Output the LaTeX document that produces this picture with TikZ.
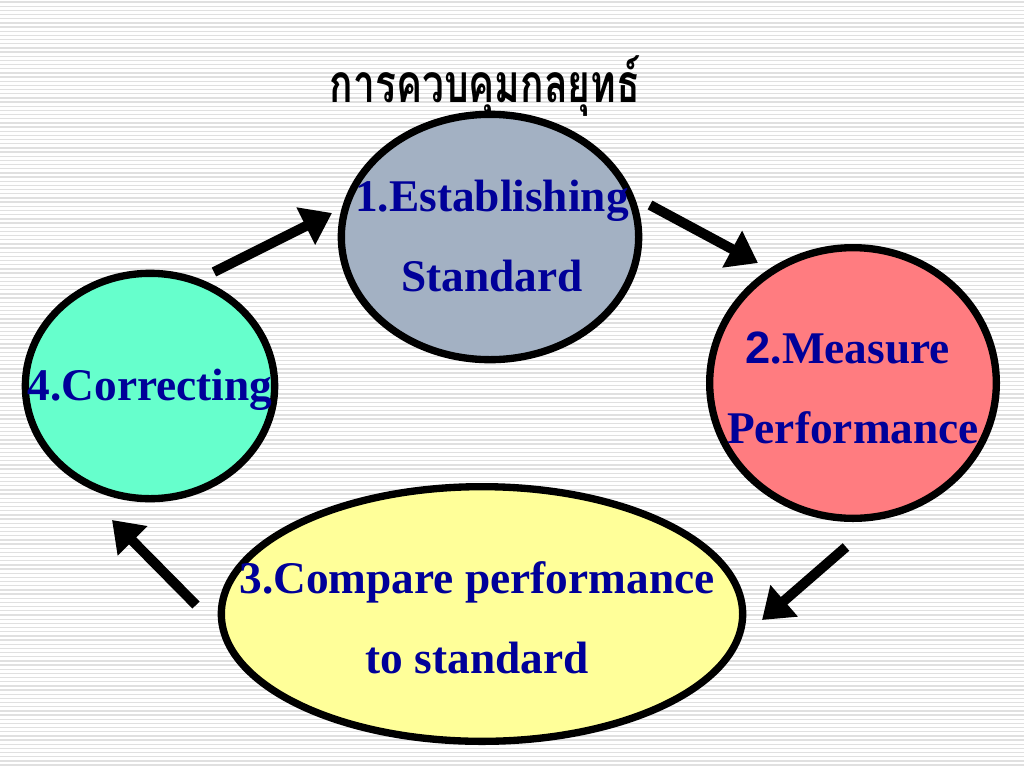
\documentclass[tikz,border=0pt]{standalone}
\usepackage{graphicx}
\usepackage{fontspec}
\setmainfont{Liberation Serif}
\newfontfamily\thaifont[Script=Thai]{Loma}
\newfontfamily\numfont{Liberation Sans}
\usetikzlibrary{arrows.meta,shapes.geometric}

\definecolor{StdBlue}{HTML}{A3B1C3}
\definecolor{MeasRed}{HTML}{FF7C80}
\definecolor{CorrGreen}{HTML}{66FFCC}
\definecolor{CompYellow}{HTML}{FFFF99}
\definecolor{TextBlue}{HTML}{000099}

\begin{document}
\begin{tikzpicture}[
      x = 0.75pt, y = -0.75pt,
      Line/.style = {draw, line width = 7.5pt, -{Triangle[length = 22pt, width = 30pt]}},
      Stage/.style = {draw, ellipse, line width = 5.5pt, inner sep = 0pt},
      StageText/.style = {align = center, text = TextBlue, font = \bfseries\fontsize{34}{60}\selectfont},
      Heading/.style = {font = \thaifont\bfseries\fontsize{40}{48}\selectfont},
      Stripe/.style = {draw = black!12, line width = 1pt}
    ]
    \useasboundingbox (0,0) rectangle (1024,768);
    \foreach \y in {2,6.17,...,768} \draw[Stripe] (0,\y) -- (1024,\y);

    \node at (485,86) [Heading](Title){\scalebox{0.73}[1]{การควบคุมกลยุทธ์}};

    \node at (490,237) [Stage, fill = StdBlue, minimum width = 223pt, minimum height = 184pt](Establish){};
    \node at (853,383) [Stage, fill = MeasRed, minimum width = 215pt, minimum height = 203pt](Measure){};
    \node at (482,614) [Stage, fill = CompYellow, minimum width = 391pt, minimum height = 191pt](Compare){};
    \node at (150,386) [Stage, fill = CorrGreen, minimum width = 187pt, minimum height = 169pt](Correct){};

    \node at (492,236) [StageText](EstablishText){1.Establishing\\Standard};
    \node at (853,388) [StageText](MeasureText){{\numfont 2}.Measure\hspace*{8pt}\\Performance};
    \node at (477,618) [StageText](CompareText){3.Compare performance\\to standard};
    \node at (150,390) [StageText](CorrectText){4.Correcting};

    \coordinate (a1s) at (214,272); \coordinate (a1e) at (332,213);
    \coordinate (a2s) at (650,205); \coordinate (a2e) at (758,263);
    \coordinate (a3s) at (846,547); \coordinate (a3e) at (762,620);
    \coordinate (a4s) at (196,605); \coordinate (a4e) at (112,520);

    \path [Line] (a1s) -- (a1e);
    \path [Line] (a2s) -- (a2e);
    \path [Line] (a3s) -- (a3e);
    \path [Line] (a4s) -- (a4e);
  \end{tikzpicture}
\end{document}
